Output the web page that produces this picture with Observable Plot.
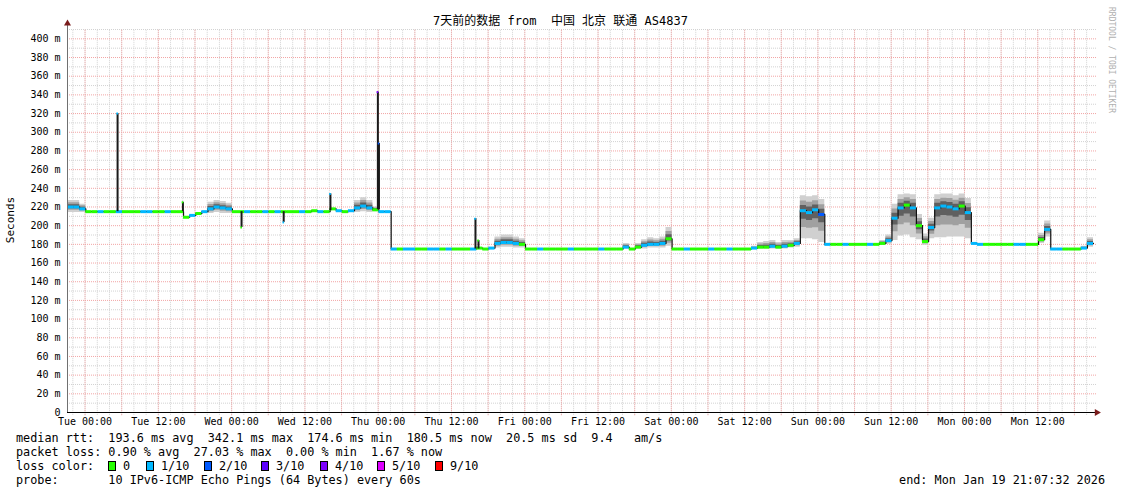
<!DOCTYPE html>
<html><head><meta charset="utf-8">
<script src="https://cdn.jsdelivr.net/npm/d3@7"></script>
<script src="https://cdn.jsdelivr.net/npm/@observablehq/plot@0.6"></script>
<style>
body{margin:0;background:#fff;}
#wrap{position:relative;width:1121px;height:494px;overflow:hidden;font-family:"DejaVu Sans Mono",monospace;color:#000;background:#fff;}
.abs{position:absolute;white-space:pre;}
#wrap svg{position:absolute;left:0;top:0;}
</style></head><body><div id="wrap"></div>
<script>
// ---------------- data ----------------
const endTime = Date.UTC(2026, 0, 19, 21, 7, 32);
const spanHours = 168;
const titleText = "7天前的数据 from  中国 北京 联通 AS4837";
// hourly median rtt (ms), one value per hour from the start of the window (12 per row)
const medianRtt = [
  220,220,218,215,215,215,215,215,215,215,215,215,
  215,215,215,215,215,215,215,209,211,213,215,218,
  220,219,218,215,215,215,215,215,215,215,215,215,
  215,215,215,215,216,215,215,218,216,215,216,219,
  221,219,217,215,215,175,175,175,175,175,175,175,
  175,175,175,175,175,175,175,176,175,176,181,182,
  182,181,180,175,175,175,175,175,175,175,175,175,
  175,175,175,175,175,175,175,177,175,177,179,180,
  180,181,186,175,175,175,175,175,175,175,175,175,
  175,175,175,175,176,177,177,178,177,178,179,181,
  216,214,217,212,180,180,180,180,180,180,180,180,
  180,181,184,208,219,222,219,200,183,198,219,221,
  220,218,221,214,181,180,180,180,180,180,180,180,
  180,180,180,185,196,175,175,175,175,175,176,181
];
// smoke spread below / above the median (ms)
const smokeBelow = [
  6,6,4,0,0,0,0,0,0,0,0,0,
  0,0,0,0,0,0,0,0,0,0,0,5,
  6,6,5,0,0,0,0,0,0,0,0,0,
  0,0,0,0,0,0,0,0,0,0,0,5,
  6,5,2,0,0,0,0,0,0,0,0,0,
  0,0,0,0,0,0,0,0,0,0,5,5,
  5,5,4,0,0,0,0,0,0,0,0,0,
  0,0,0,0,0,0,0,2,0,2,4,4,
  4,5,8,0,0,0,0,0,0,0,0,0,
  0,0,0,0,1,2,2,3,2,3,3,4,
  30,28,32,30,0,0,0,0,0,0,0,0,
  0,1,4,24,30,32,32,15,4,12,32,34,
  32,30,33,28,0,0,0,0,0,0,0,0,
  0,0,0,4,8,0,0,0,0,0,1,4
];
const smokeAbove = [
  7,7,5,0,0,0,0,0,0,0,0,0,
  0,0,0,0,0,0,0,0,0,0,0,7,
  7,7,6,0,0,0,0,0,0,0,0,0,
  0,0,0,0,0,0,0,0,0,0,0,8,
  9,8,3,0,0,0,0,0,0,0,0,0,
  0,0,0,0,0,0,0,0,0,0,7,8,
  8,7,6,0,0,0,0,0,0,0,0,0,
  0,0,0,0,0,0,0,4,0,4,6,7,
  6,7,12,0,0,0,0,0,0,0,0,0,
  0,0,0,0,2,5,6,6,5,6,5,5,
  16,17,15,16,0,0,0,0,0,0,0,0,
  0,3,6,15,14,12,14,12,8,10,14,13,
  14,14,13,15,0,0,0,0,0,0,0,0,
  0,0,0,7,9,0,0,0,0,0,2,6
];
// packet loss per hour, in tenths (10 pings)
const lossTenths = [
  1,1,1,0,0,1,0,0,1,0,0,0,
  1,1,0,0,1,0,0,0,1,0,1,1,
  1,1,1,0,0,1,0,0,1,0,1,0,
  0,0,1,0,0,1,0,0,1,0,1,1,
  1,1,0,1,1,1,0,1,1,0,0,1,
  1,0,1,0,0,0,1,0,0,1,1,1,
  1,1,0,0,0,1,0,0,0,0,1,0,
  0,0,0,1,0,0,0,1,0,0,1,1,
  1,1,0,0,0,1,0,0,0,1,0,0,
  1,0,0,0,1,0,0,1,0,1,0,1,
  1,1,1,2,1,0,0,1,0,0,0,1,
  0,0,1,1,1,0,1,0,0,1,1,1,
  1,1,0,1,1,1,0,0,0,0,0,1,
  1,0,0,0,1,1,1,0,0,0,1,1
];
// short spikes (hours from start, level before, peak, loss)
const spikeHours = [8.2, 18.9, 28.5, 35.4, 43.05, 50.82, 51.0, 66.8, 67.3];
const spikeBase  = [215, 215, 215, 215, 216, 217, 217, 175, 175];
const spikeValue = [320, 225, 198, 203.5, 234, 343, 288, 207.5, 184];
const spikeLoss  = [1, 0, 0, 1, 1, 4, 2, 1, 0];

const lossKeys   = [0, 1, 2, 3, 4, 5, 9];
const lossLabels = ["0", "1/10", "2/10", "3/10", "4/10", "5/10", "9/10"];
const lossColors = ["#26ff00", "#00b8ff", "#0059ff", "#5e00ff", "#7e00ff", "#dd00ff", "#ff0000"];

const yTicks = d3.range(0, 401, 20);
const statLines = [
  "median rtt:  193.6 ms avg  342.1 ms max  174.6 ms min  180.5 ms now  20.5 ms sd  9.4   am/s",
  "packet loss: 0.90 % avg  27.03 % max  0.00 % min  1.67 % now",
  "probe:       10 IPv6-ICMP Echo Pings (64 Bytes) every 60s"
];
const endLabel = "end: Mon Jan 19 21:07:32 2026";

// ---------------- build ----------------
const H = 3600e3;
const startTime = endTime - spanHours * H;
const t0 = new Date(startTime), tEnd = new Date(endTime);
const rows = medianRtt.map((v, i) => ({
  t: new Date(startTime + i * H), t1: new Date(startTime + (i + 1) * H),
  v, below: smokeBelow[i], above: smokeAbove[i], loss: lossTenths[i]
}));
const last = rows[rows.length - 1];
const stepRows = rows.concat([{...last, t: last.t1}]);
const spikes = spikeHours.map((h, i) => ({
  t: new Date(startTime + h * H), ta: new Date(startTime + (h - 0.12) * H), tb: new Date(startTime + (h + 0.15) * H),
  base: spikeBase[i], v: spikeValue[i], loss: spikeLoss[i]
}));
const minorX = d3.utcHour.every(2).range(t0, tEnd);
const majorX = d3.utcHour.every(6).range(t0, tEnd);
const labelX = d3.utcHour.every(12).range(t0, tEnd);
const fmtX = d3.utcFormat("%a %H:%M");
const gridExt = new Date(endTime + 0.5 * H);

const chart = Plot.plot({
  width: 1121, height: 432,
  marginLeft: 67, marginRight: 28, marginTop: 29, marginBottom: 20,
  x: {type: "utc", domain: [t0, tEnd], axis: null},
  y: {domain: [0, 410], axis: null},
  color: {type: "ordinal", domain: lossKeys, range: lossColors},
  style: {fontFamily: "DejaVu Sans Mono", fontSize: "10px", background: "transparent", overflow: "visible"},
  marks: [
    // grid
    Plot.ruleY(d3.range(10, 411, 20), {x1: () => t0, x2: () => gridExt, stroke: "#d2d2d2", strokeDasharray: "1,1"}),
    Plot.ruleX(minorX, {y1: -3, y2: 410, stroke: "#d2d2d2", strokeDasharray: "1,1"}),
    Plot.ruleY(d3.range(20, 401, 20), {x1: () => t0, x2: () => gridExt, stroke: "#f2a5a5", strokeDasharray: "1,1"}),
    Plot.ruleX(majorX, {y1: -3.5, y2: 410, stroke: "#f2a5a5", strokeDasharray: "1,1"}),
    // smoke
    Plot.areaY(stepRows, {x: "t", y1: d => d.v - d.below, y2: d => d.v + d.above, curve: "step-after", fill: "#d0d0d0"}),
    Plot.areaY(stepRows, {x: "t", y1: d => d.v - d.below * 0.6, y2: d => d.v + d.above * 0.65, curve: "step-after", fill: "#a0a0a0"}),
    Plot.areaY(stepRows, {x: "t", y1: d => d.v - d.below * 0.3, y2: d => d.v + d.above * 0.35, curve: "step-after", fill: "#606060"}),
    // median
    Plot.line(stepRows, {x: "t", y: "v", curve: "step-after", stroke: "#111", strokeWidth: 1.2}),
    Plot.ruleY(rows, {y: "v", x1: "t", x2: "t1", stroke: "loss", strokeWidth: 3}),
    // spikes
    Plot.ruleX(spikes, {x: "t", y1: "base", y2: "v", stroke: "#1a1a1a", strokeWidth: 2}),
    Plot.ruleY(spikes, {y: "v", x1: "ta", x2: "tb", stroke: "loss", strokeWidth: 2}),
    // axes
    Plot.ruleX([t0], {y1: 0, y2: 416, stroke: "#707070"}),
    Plot.ruleY([0], {x1: () => t0, x2: () => gridExt, stroke: "#000"}),
    Plot.dot([{t: t0, v: 416.5}], {x: "t", y: "v", symbol: "triangle", r: 2.6, fill: "#7a1c1c"}),
    Plot.dot([{t: new Date(endTime + 0.55 * H), v: 0}], {x: "t", y: "v", symbol: "triangle", rotate: 90, r: 2.6, fill: "#7a1c1c"}),
    Plot.text(yTicks, {x: () => t0, y: d => d, text: d => d ? d + " m" : "0", textAnchor: "end", dx: -7, fill: "#000", fontSize: 10, fontFamily: "DejaVu Sans Mono"}),
    Plot.text(labelX, {x: d => d, y: () => 0, text: d => fmtX(d), dy: 9, fill: "#000", fontSize: 10, fontFamily: "DejaVu Sans Mono"})
  ]
});

const wrap = document.getElementById("wrap");
wrap.appendChild(chart);

function addText(txt, css) {
  const d = document.createElement("div");
  d.className = "abs";
  d.textContent = txt;
  Object.assign(d.style, css);
  wrap.appendChild(d);
  return d;
}
// title
addText(titleText, {left: "0px", width: "1121px", top: "13px", textAlign: "center", fontSize: "12px", lineHeight: "16px",
  fontFamily: "'DejaVu Sans Mono','Noto Sans CJK SC',monospace"});
// y label
addText("Seconds", {left: "11px", top: "220px", fontSize: "11px", lineHeight: "12px", transform: "translate(-50%,-50%) rotate(-90deg)"});
// watermark
addText("RRDTOOL / TOBI OETIKER", {left: "1111px", top: "60px", fontSize: "8px", lineHeight: "9px", color: "#b0b0b0",
  transform: "translate(-50%,-50%) rotate(90deg)"});
// stats
const lineCss = {left: "16px", fontSize: "11.8px", lineHeight: "14px"};
addText(statLines[0], {...lineCss, top: "431px"});
addText(statLines[1], {...lineCss, top: "445px"});
addText("loss color:", {...lineCss, top: "459px"});
addText(statLines[2], {...lineCss, top: "473px"});
addText(endLabel, {right: "16px", fontSize: "11.8px", lineHeight: "14px", top: "473px"});
const boxX = [108, 146, 204, 261, 320, 377, 435];
lossKeys.forEach((k, i) => {
  const b = document.createElement("div");
  Object.assign(b.style, {position: "absolute", left: boxX[i] + "px", top: "461px", width: "6px", height: "8px",
    border: "1px solid #000", background: lossColors[i]});
  wrap.appendChild(b);
  addText(lossLabels[i], {left: (boxX[i] + 15) + "px", top: "459px", fontSize: "11.8px", lineHeight: "14px"});
});
</script></body></html>
